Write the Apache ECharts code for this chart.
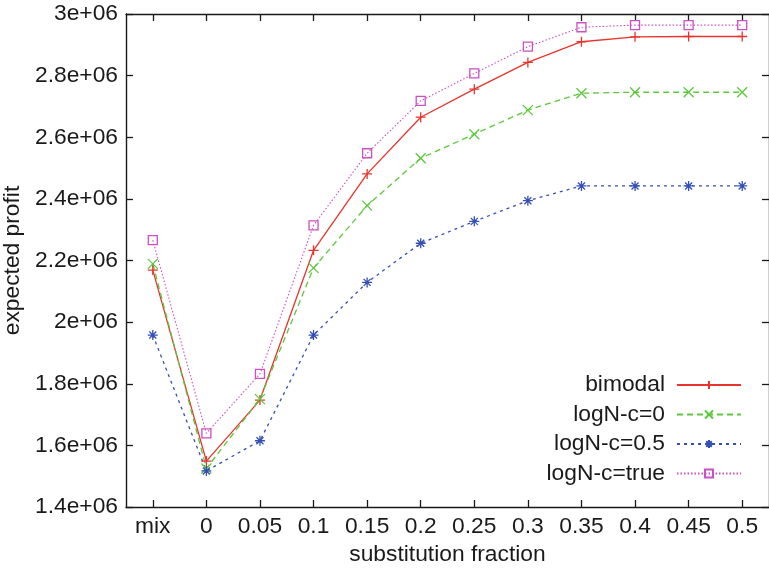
<!DOCTYPE html>
<html>
<head>
<meta charset="utf-8">
<script src="https://cdn.jsdelivr.net/npm/echarts@6/dist/echarts.min.js"></script>
<style>
  html, body { margin: 0; padding: 0; background: #fff; }
  #chart { width: 769px; height: 568px; }
</style>
</head>
<body>
<div id="chart"></div>
<script>
// Expected profit versus substitution fraction, four demand models
const categories = ['mix', '0', '0.05', '0.1', '0.15', '0.2', '0.25', '0.3', '0.35', '0.4', '0.45', '0.5'];

const bimodal = [2.169e6, 1.549e6, 1.747e6, 2.233e6, 2.481e6, 2.665e6, 2.756e6, 2.843e6, 2.910e6, 2.926e6, 2.927e6, 2.927e6];
const logNc0 = [2.189e6, 1.525e6, 1.750e6, 2.176e6, 2.378e6, 2.532e6, 2.610e6, 2.688e6, 2.743e6, 2.746e6, 2.746e6, 2.746e6];
const logNc05 = [1.958e6, 1.517e6, 1.615e6, 1.958e6, 2.129e6, 2.256e6, 2.327e6, 2.394e6, 2.442e6, 2.442e6, 2.442e6, 2.442e6];
const logNcTrue = [2.266e6, 1.639e6, 1.832e6, 2.314e6, 2.548e6, 2.718e6, 2.807e6, 2.894e6, 2.957e6, 2.964e6, 2.964e6, 2.964e6];

const seriesNames = ['bimodal', 'logN-c=0', 'logN-c=0.5', 'logN-c=true'];

const FONT = 'Liberation Sans, Arial, Helvetica, sans-serif';
const FS = 22.8;
const INK = '#1a1a1a';

// stroked marker shapes (plus, cross, asterisk, open square)
const SYM_PLUS = 'path://M0,5L10,5M5,0L5,10';
const SYM_CROSS = 'path://M0,0L10,10M10,0L0,10';
const SYM_STAR = 'path://M0,5L10,5M5,0L5,10M1.5,1.5L8.5,8.5M8.5,1.5L1.5,8.5';
const SYM_SQUARE = 'path://M0,0L10,0L10,10L0,10Z';

function makeSeries(name, data, color, dash, symbol, size, width) {
  return {
    name: name,
    type: 'line',
    data: data,
    symbol: symbol,
    symbolSize: size,
    showAllSymbol: true,
    animation: false,
    lineStyle: { color: color, width: width, type: dash },
    itemStyle: { color: 'none', borderColor: color, borderWidth: 1.3 },
    emphasis: { disabled: true }
  };
}

const fmtY = v => parseFloat((v / 1e6).toFixed(1)) + 'e+06';

const chart = echarts.init(document.getElementById('chart'), null, { renderer: 'canvas' });

const axisLine = { show: true, lineStyle: { color: INK, width: 1.4 } };
const tickInside = { show: true, inside: true, length: 7, lineStyle: { color: INK, width: 1.3 } };

chart.setOption({
  backgroundColor: '#fff',
  animation: false,
  grid: { left: 126, top: 14, width: 643, height: 493, containLabel: false, outerBoundsMode: 'none' },
  legend: {
    orient: 'vertical',
    right: 22,
    top: 368,
    align: 'right',
    itemWidth: 64,
    itemHeight: 10,
    itemGap: 5.5,
    selectedMode: false,
    textStyle: { fontFamily: FONT, fontSize: FS, lineHeight: 24, color: INK, padding: [0, 7, 0, 0] },
    data: seriesNames
  },
  xAxis: [
    {
      type: 'category',
      data: categories,
      boundaryGap: true,
      axisLine: axisLine,
      axisTick: Object.assign({ alignWithLabel: true }, tickInside),
      axisLabel: { fontFamily: FONT, fontSize: FS, color: INK, margin: 8, interval: 0 },
      name: 'substitution fraction',
      nameLocation: 'middle',
      nameGap: 33,
      nameTextStyle: { fontFamily: FONT, fontSize: FS, color: INK },
      splitLine: { show: false }
    },
    {
      type: 'category',
      data: categories,
      position: 'top',
      boundaryGap: true,
      axisLine: axisLine,
      axisTick: Object.assign({ alignWithLabel: true }, tickInside),
      axisLabel: { show: false },
      splitLine: { show: false }
    }
  ],
  yAxis: [
    {
      type: 'value',
      min: 1.4e6,
      max: 3e6,
      interval: 0.2e6,
      axisLine: axisLine,
      axisTick: tickInside,
      axisLabel: { fontFamily: FONT, fontSize: FS, color: INK, margin: 8, formatter: fmtY },
      name: 'expected profit',
      nameLocation: 'middle',
      nameGap: 92,
      nameRotate: 90,
      nameTextStyle: { fontFamily: FONT, fontSize: FS, color: INK },
      splitLine: { show: false }
    },
    {
      type: 'value',
      position: 'right',
      min: 1.4e6,
      max: 3e6,
      interval: 0.2e6,
      axisLine: axisLine,
      axisTick: tickInside,
      axisLabel: { show: false },
      splitLine: { show: false }
    }
  ],
  series: [
    makeSeries(seriesNames[0], bimodal, '#e8342c', 'solid', SYM_PLUS, 10, 1.3),
    makeSeries(seriesNames[1], logNc0, '#5cc83c', [6, 4], SYM_CROSS, 10, 1.3),
    makeSeries(seriesNames[2], logNc05, '#3550b4', [3, 4], SYM_STAR, 10, 1.3),
    makeSeries(seriesNames[3], logNcTrue, '#cc4fc4', [1.5, 2], SYM_SQUARE, 9, 1.1)
  ]
});
</script>
</body>
</html>
